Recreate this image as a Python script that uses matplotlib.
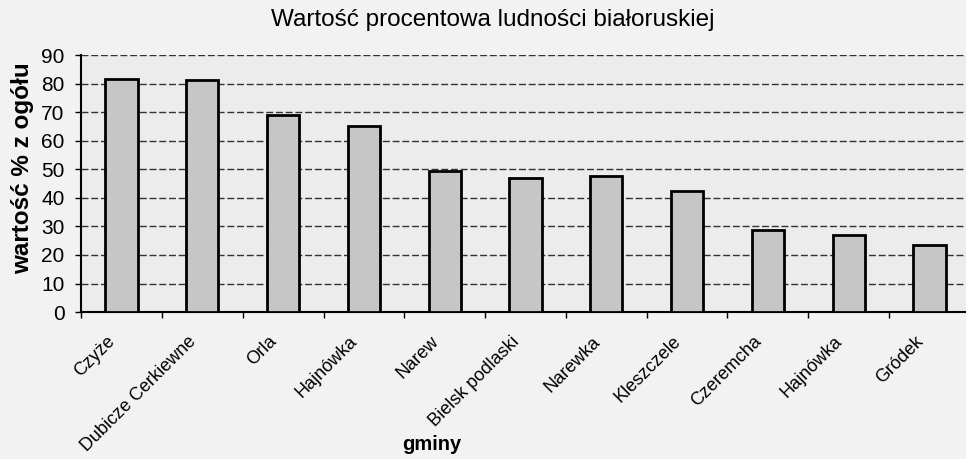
import matplotlib

matplotlib.use("Agg")
import matplotlib.pyplot as plt
import matplotlib.transforms as mtransforms
import numpy as np

gminy = ["Czyże", "Dubicze Cerkiewne", "Orla", "Hajnówka", "Narew",
         "Bielsk podlaski", "Narewka", "Kleszczele", "Czeremcha",
         "Hajnówka", "Gródek"]
wartosc = [81.6, 81.3, 69.0, 65.2, 49.4, 47.0, 47.8, 42.4, 28.7, 26.9, 23.4]
y_ticks = [0, 10, 20, 30, 40, 50, 60, 70, 80, 90]

plt.rcParams["font.family"] = ["Liberation Sans", "DejaVu Sans"]

fig = plt.figure(figsize=(9.66, 4.59), dpi=100, facecolor="#f2f2f2")
ax = fig.add_axes([0.084, 0.32, 0.92, 0.56])
ax.set_facecolor("#ececec")

x = np.arange(len(gminy))
ax.bar(x, wartosc, width=0.4, color="#c6c6c6", edgecolor="black", linewidth=2, zorder=3)

ax.set_xlim(-0.5, len(gminy) - 0.5)
ax.set_ylim(0, 90)
ax.set_yticks(y_ticks)
ax.tick_params(axis="y", labelsize=15, length=4, width=1, pad=8)
ax.yaxis.grid(True, color="#333333", linestyle=(0, (5, 2)), linewidth=1.0, zorder=0)

ax.set_xticks(x)
ax.set_xticklabels(gminy, rotation=45, ha="right", rotation_mode="anchor", fontsize=13)
ax.tick_params(axis="x", length=0, pad=15)
shift = mtransforms.ScaledTranslation(-15 / 100, 0, fig.dpi_scale_trans)
for lbl in ax.get_xticklabels():
    lbl.set_transform(lbl.get_transform() + shift)
ax.set_xticks(np.arange(len(gminy) + 1) - 0.5, minor=True)
ax.tick_params(axis="x", which="minor", length=4, width=1, direction="out")

for side in ("top", "right"):
    ax.spines[side].set_visible(False)
ax.spines["left"].set_linewidth(1.5)
ax.spines["bottom"].set_linewidth(1.5)

ax.set_ylabel("wartość % z ogółu", fontsize=17.5, fontweight="bold")
ax.yaxis.set_label_coords(-0.053, 0.56)
fig.text(0.447, 0.02, "gminy", fontsize=14.5, fontweight="bold", ha="center", va="baseline")
fig.text(0.51, 0.956, "Wartość procentowa ludności białoruskiej", fontsize=17.5,
         ha="center", va="center")

fig.savefig("out.png", dpi=100, facecolor=fig.get_facecolor())
